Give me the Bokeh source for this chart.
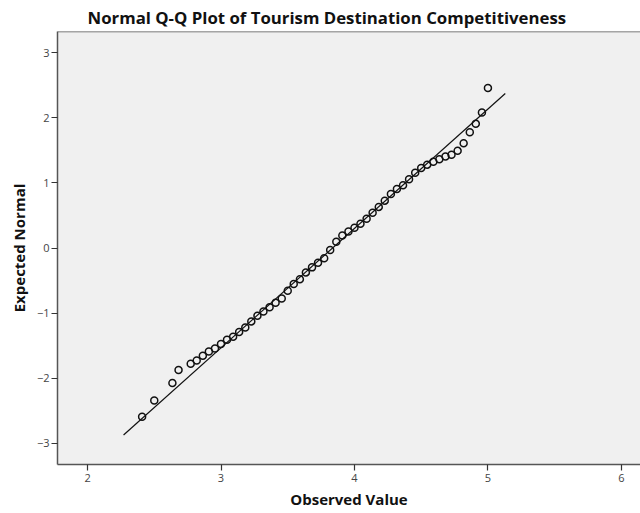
from bokeh.plotting import figure
from bokeh.models import FixedTicker, Range1d, Span
from bokeh.embed import file_html
from bokeh.resources import INLINE

# Observed values (distinct values, ascending) and their expected normal scores
observed = [2.409, 2.500, 2.636, 2.682, 2.773, 2.818, 2.864, 2.909, 2.955, 3.000,
            3.045, 3.091, 3.136, 3.182, 3.227, 3.273, 3.318, 3.364, 3.409, 3.455,
            3.500, 3.545, 3.591, 3.636, 3.682, 3.727, 3.773, 3.818, 3.864, 3.909,
            3.955, 4.000, 4.045, 4.091, 4.136, 4.182, 4.227, 4.273, 4.318, 4.364,
            4.409, 4.455, 4.500, 4.545, 4.591, 4.636, 4.682, 4.727, 4.773, 4.818,
            4.864, 4.909, 4.955, 5.000]
expected = [-2.595, -2.345, -2.077, -1.877, -1.780, -1.729, -1.657, -1.591, -1.545, -1.477,
            -1.411, -1.365, -1.292, -1.222, -1.129, -1.042, -0.975, -0.911, -0.842, -0.775,
            -0.657, -0.554, -0.480, -0.375, -0.298, -0.226, -0.157, -0.031, 0.097, 0.194,
            0.254, 0.312, 0.374, 0.451, 0.543, 0.632, 0.728, 0.831, 0.908, 0.966,
            1.058, 1.158, 1.231, 1.282, 1.328, 1.366, 1.408, 1.435, 1.494, 1.612,
            1.782, 1.912, 2.085, 2.462]

# Reference line: expected = (observed - mean) / sd
mean_value = 3.836
sd_value = 0.5444
line_x = [2.27, 5.13]
line_y = [(v - mean_value) / sd_value for v in line_x]

x_ticks = [2, 3, 4, 5, 6]
y_ticks = [-3, -2, -1, 0, 1, 2, 3]

title_text = "Normal Q-Q Plot of Tourism Destination Competitiveness"
x_label = "Observed Value"
y_label = "Expected Normal"

FONT = "Open Sans"
BORDER = "#555555"

p = figure(width=640, height=513, output_backend="svg", toolbar_location=None,
           x_range=Range1d(1.775, 6.143), y_range=Range1d(-3.33, 3.33),
           min_border_left=57, min_border_right=0, min_border_top=31,
           min_border_bottom=49)
p.background_fill_color = "#f0f0f0"
p.border_fill_color = "white"
p.outline_line_color = None
p.grid.visible = False

p.title.text = title_text
p.title.text_font = FONT
p.title.text_font_size = "16.8px"
p.title.text_font_style = "bold"
p.title.text_color = "#111111"
p.title.align = "left"
p.title.offset = 30
p.title.standoff = 5

for ax in (p.xaxis[0], p.yaxis[0]):
    ax.axis_line_color = BORDER
    ax.axis_line_width = 1.5
    ax.major_tick_line_color = "#333333"
    ax.major_tick_line_width = 1.2
    ax.major_tick_out = 6
    ax.major_tick_in = 0
    ax.minor_tick_line_color = None
    ax.major_label_text_font = FONT
    ax.major_label_text_font_size = "11px"
    ax.major_label_text_color = "#444444"
    ax.axis_label_text_font = FONT
    ax.axis_label_text_font_size = "15px"
    ax.axis_label_text_font_style = "bold"
    ax.axis_label_text_color = "#111111"

p.xaxis[0].ticker = FixedTicker(ticks=x_ticks)
p.yaxis[0].ticker = FixedTicker(ticks=y_ticks)
p.xaxis[0].axis_label = x_label
p.yaxis[0].axis_label = y_label
p.xaxis[0].major_label_standoff = 3
p.xaxis[0].axis_label_standoff = 4
p.yaxis[0].major_label_standoff = 2
p.yaxis[0].axis_label_standoff = 5

top_border = Span(location=3.33, dimension="width", line_color=BORDER, line_width=1.5)
p.add_layout(top_border)

p.line(line_x, line_y, line_color="#111111", line_width=1.2)
p.scatter(observed, expected, marker="circle", size=7, fill_color=None,
          line_color="#111111", line_width=1.5)

open("out.html", "w").write(file_html(p, INLINE))
